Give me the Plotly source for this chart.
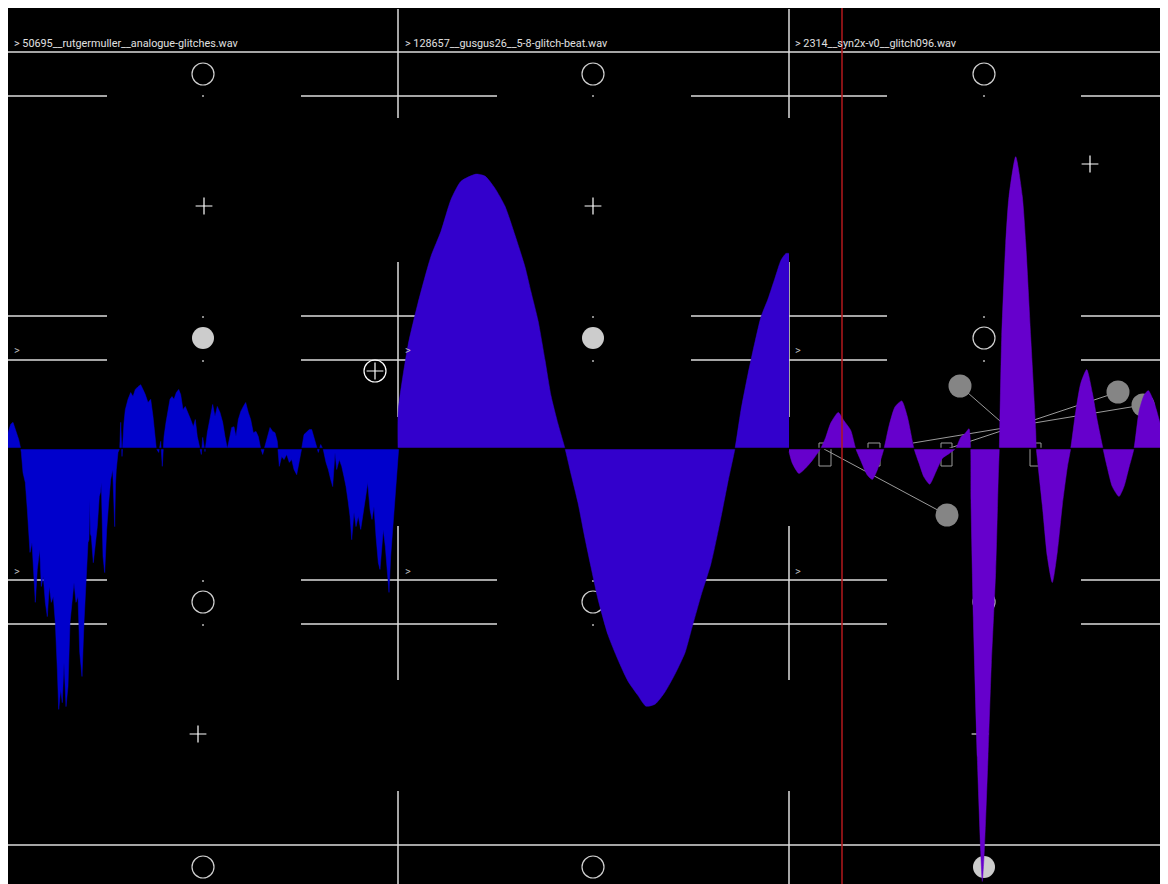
import plotly.graph_objects as go

# ---------------- data ----------------
TRACK_NAMES = [
    "50695__rutgermuller__analogue-glitches.wav",
    "128657__gusgus26__5-8-glitch-beat.wav",
    "2314__syn2x-v0__glitch096.wav",
]
TRACK_COLORS = ["#0000cc", "#3300cc", "#6600cc"]
TRACK_START_BIN = [0, 390, 781]          # first overview bin of each track
TRACK_SHAPE = ["linear", "spline", "spline"]

# waveform overview: (bin within track, peak amplitude, full scale = 1)
TRACK1_PEAKS = [
    (0, 0.040), (2.7, 0.061), (5, 0.066), (8.3, 0.043), (10.7, 0.023), (12.7, 0.0),
    (13.3, -0.010), (15, -0.061), (17.3, -0.086), (19.3, -0.154), (20.7, -0.222),
    (22, -0.262), (24, -0.237), (26, -0.338), (27.3, -0.388), (29.3, -0.305),
    (31.7, -0.255), (33.3, -0.348), (35.3, -0.323), (37.3, -0.388), (39.3, -0.424),
    (41.3, -0.348), (43.3, -0.388), (45.3, -0.373), (47.3, -0.439), (49.3, -0.557),
    (50.7, -0.658), (52.7, -0.608), (54.3, -0.641), (56, -0.540), (58, -0.651),
    (60, -0.600), (62, -0.439), (64, -0.388), (66, -0.338), (68, -0.388),
    (70, -0.373), (71.7, -0.514), (74, -0.575), (76, -0.439), (78, -0.323),
    (80, -0.237), (81, -0.230), (81.7, -0.129), (82.4, -0.215), (83.3, -0.222),
    (85.3, -0.288), (87.3, -0.237), (89.3, -0.197), (91.3, -0.121), (92.5, -0.110),
    (93.3, -0.086), (94.2, -0.200), (95, -0.272), (96.7, -0.313), (98.7, -0.204),
    (100.7, -0.136), (102.7, -0.078), (104.7, -0.053), (105.8, -0.150), (106.7, -0.197),
    (107.5, -0.090), (108.3, -0.053), (110, -0.010), (111.7, 0.0), (112.7, 0.066),
    (114, -0.020), (116, 0.066), (117.3, 0.098), (120, 0.124), (122.7, 0.141),
    (125, 0.131), (127.3, 0.149), (130, 0.156), (132.7, 0.161), (135, 0.149),
    (137.3, 0.136), (140, 0.116), (142.7, 0.124), (145, 0.081), (146.7, 0.030),
    (148.3, 0.0), (150.7, -0.010), (152.7, 0.018), (154.3, -0.045), (156, 0.030),
    (158, 0.066), (160, 0.098), (162, 0.124), (164, 0.131), (166, 0.124),
    (168.3, 0.141), (170.7, 0.149), (172.7, 0.136), (175, 0.098), (177.3, 0.106),
    (180, 0.091), (182.7, 0.073), (185.3, 0.055), (187.3, 0.073), (189.3, 0.030),
    (191.7, 0.0), (193.3, -0.015), (194.7, 0.028), (197, -0.008), (199.3, 0.040),
    (202, 0.081), (204.7, 0.111), (207, 0.081), (209.3, 0.106), (212, 0.091),
    (214.7, 0.066), (217, 0.030), (219.3, 0.0), (221.3, 0.023), (223.7, 0.053),
    (226, 0.055), (228, 0.030), (230.3, 0.073), (232.7, 0.093), (235.3, 0.106),
    (237.7, 0.116), (240.3, 0.091), (242.7, 0.073), (245.3, 0.040), (248, 0.043),
    (250.3, 0.030), (252.7, 0.0), (254.7, -0.015), (257, 0.005), (259.3, 0.023),
    (262, 0.053), (264.7, 0.043), (267, 0.040), (269.3, 0.018), (271.3, -0.045),
    (273.7, -0.020), (276, -0.028), (278.7, -0.015), (281.3, -0.035), (283.7, -0.028),
    (286, -0.053), (288.7, -0.066), (291.3, -0.035), (293.7, 0.0), (296, 0.035),
    (298.7, 0.043), (301.3, 0.048), (303.7, 0.048), (306, 0.028), (308.7, 0.0),
    (310.3, -0.010), (312.7, 0.010), (315.3, -0.003), (318, -0.035), (320.3, -0.053),
    (322.7, -0.078), (324.7, -0.096), (327, -0.010), (328.7, -0.053), (331.3, -0.028),
    (333.7, -0.045), (336, -0.071), (338, -0.096), (340.3, -0.136), (342, -0.171),
    (343.7, -0.230), (346, -0.161), (348, -0.197), (350.3, -0.171), (352.7, -0.204),
    (355.3, -0.154), (357.7, -0.121), (359.7, -0.086), (362, -0.154), (364, -0.179),
    (366, -0.146), (368, -0.222), (370.3, -0.288), (372, -0.305), (373.7, -0.255),
    (375.3, -0.204), (377.3, -0.247), (379.3, -0.323), (381, -0.363), (382.7, -0.272),
    (384.7, -0.204), (387, -0.121), (389.3, -0.053), (390.7, 0.0),
]
TRACK2_PEAKS = [
    (0, 0.0), (0.3, 0.097), (10, 0.260), (20, 0.367), (33, 0.485), (43, 0.548),
    (53, 0.628), (63, 0.674), (78, 0.692), (87, 0.687), (97, 0.656), (107, 0.611),
    (117, 0.538), (127, 0.458), (133, 0.395), (140, 0.323), (147, 0.223),
    (153, 0.133), (160, 0.062), (167, 0.0), (173, -0.064), (180, -0.137),
    (187, -0.227), (193, -0.299), (200, -0.380), (210, -0.470), (220, -0.533),
    (230, -0.587), (240, -0.623), (248, -0.650), (257, -0.645), (267, -0.614),
    (277, -0.569), (287, -0.515), (293, -0.461), (303, -0.371), (313, -0.290),
    (323, -0.173), (330, -0.083), (337, 0.0), (343, 0.097), (350, 0.188),
    (357, 0.269), (363, 0.332), (370, 0.377), (377, 0.430), (383, 0.475),
    (388, 0.492), (391, 0.492),
]
TRACK3_PEAKS = [
    (0, -0.008), (3.3, -0.037), (10, -0.063), (16.7, -0.049), (23.3, -0.030), (31.7, 0.0),
    (36.7, 0.028), (41.7, 0.064), (49.3, 0.091), (55, 0.070), (61.7, 0.046), (66.7, 0.0),
    (71.7, -0.030), (78.3, -0.067), (83.3, -0.078), (88.3, -0.054), (95, 0.0),
    (100, 0.057), (106, 0.105), (112.7, 0.120), (118.3, 0.081), (125, 0.0),
    (130, -0.037), (135, -0.072), (140.7, -0.090), (146.7, -0.060), (153.3, -0.025),
    (160, -0.013), (166.7, 0.0), (171.7, 0.028), (176.7, 0.040), (180, 0.050),
    (181.7, 0.0), (182, -0.131), (184.3, -0.426), (188.3, -0.779), (191.7, -1.016),
    (193.3, -1.092), (195.3, -1.016), (199, -0.779), (202.3, -0.545), (206.7, -0.308),
    (209.3, -0.072), (210.3, 0.0), (210.7, 0.046), (212.7, 0.282), (216.7, 0.518),
    (220, 0.636), (226.7, 0.736), (233.3, 0.636), (236.7, 0.518), (241.7, 0.282),
    (246.7, 0.046), (247.3, 0.0), (248.3, -0.025), (253.3, -0.143), (258.3, -0.272),
    (263.3, -0.338), (268.3, -0.261), (273.3, -0.143), (278.3, -0.048), (281.7, 0.0),
    (286.7, 0.093), (291.7, 0.164), (297.7, 0.199), (303.3, 0.141), (308.3, 0.070),
    (314, 0.0), (318.3, -0.048), (323.3, -0.096), (330, -0.121), (335, -0.096),
    (340, -0.048), (345, 0.0), (350, 0.093), (355, 0.134), (359.3, 0.146),
    (365, 0.117), (371.7, 0.058), (376.7, 0.010), (379, -0.013),
]
TRACK_PEAKS = [TRACK1_PEAKS, TRACK2_PEAKS, TRACK3_PEAKS]
PLAYHEAD_BIN = 834

# ---------------- UI layer (page pixel positions) ----------------
PAGE_X = [8, 1168]
PAGE_Y = [884, 8]
FULL_ROWS_Y = [52, 845]
SEG_ROWS_Y = [96, 316, 360, 580, 624]
SEG_SPANS_X = [(8, 107), (301, 497), (691, 887), (1081, 1168)]
COL_EDGES_X = [398, 789]
COL_EDGE_SPANS_Y = [(9, 118), (262, 417), (526, 680), (791, 884)]
COL_CENTERS_X = [203, 593, 984]
TICK_ROWS_Y = [96, 317, 361, 581, 625]
OPEN_KNOBS = [(203, 74), (593, 74), (984, 74), (984, 338), (203, 602),
              (593, 602), (984, 602), (203, 867), (593, 867)]
FILLED_KNOBS = [(203, 338), (593, 338), (984, 867)]
PLUS_MARKS = [(204, 206), (593, 206), (1090, 164), (198, 734), (980, 734)]
PLUS_CIRCLE = (375, 371)
NODES = [(960, 386), (947, 515), (1118, 392), (1143, 405)]
NODE_TARGETS = [(1000, 421), (824, 449), (947, 449), (913, 443)]
SLOT_X = [(819, 831), (868, 880), (941, 952), (1030, 1041)]
SLOT_Y = (443, 466)
LABEL_X = [12, 403, 793]
LABEL_Y = 43
ARROW_ROWS_Y = [350, 571]

GRID = "#dcdcdc"
fig = go.Figure()


def segs(pairs):
    xs, ys = [], []
    for (x0, y0), (x1, y1) in pairs:
        xs += [x0, x1, None]
        ys += [y0, y1, None]
    return xs, ys


# grid lines
pairs = [((PAGE_X[0], y), (PAGE_X[1], y)) for y in FULL_ROWS_Y]
pairs += [((a, y), (b, y)) for y in SEG_ROWS_Y for a, b in SEG_SPANS_X]
pairs += [((x, a), (x, b)) for x in COL_EDGES_X for a, b in COL_EDGE_SPANS_Y]
xs, ys = segs(pairs)
fig.add_trace(go.Scatter(x=xs, y=ys, mode="lines", line=dict(color=GRID, width=1.5),
                         hoverinfo="skip", showlegend=False))
# tiny ticks at column centres
fig.add_trace(go.Scatter(x=[c for c in COL_CENTERS_X for _ in TICK_ROWS_Y],
                         y=[r for _ in COL_CENTERS_X for r in TICK_ROWS_Y],
                         mode="markers", marker=dict(symbol="square", size=2, color="#888"),
                         hoverinfo="skip", showlegend=False))
# knobs
fig.add_trace(go.Scatter(x=[p[0] for p in OPEN_KNOBS], y=[p[1] for p in OPEN_KNOBS],
                         mode="markers",
                         marker=dict(symbol="circle-open", size=22, color="#d0d0d0",
                                     line=dict(width=1.2, color="#d0d0d0")),
                         hoverinfo="skip", showlegend=False))
fig.add_trace(go.Scatter(x=[p[0] for p in FILLED_KNOBS], y=[p[1] for p in FILLED_KNOBS],
                         mode="markers", marker=dict(symbol="circle", size=22, color="#cccccc"),
                         hoverinfo="skip", showlegend=False))
fig.add_trace(go.Scatter(x=[p[0] for p in PLUS_MARKS], y=[p[1] for p in PLUS_MARKS],
                         mode="markers",
                         marker=dict(symbol="cross-thin", size=12, line=dict(width=1.2, color="white")),
                         hoverinfo="skip", showlegend=False))
fig.add_trace(go.Scatter(x=[PLUS_CIRCLE[0]], y=[PLUS_CIRCLE[1]], mode="markers",
                         marker=dict(symbol="circle-open", size=22, color="white",
                                     line=dict(width=1.2, color="white")),
                         hoverinfo="skip", showlegend=False))
fig.add_trace(go.Scatter(x=[PLUS_CIRCLE[0]], y=[PLUS_CIRCLE[1]], mode="markers",
                         marker=dict(symbol="cross-thin", size=12, line=dict(width=1.2, color="white")),
                         hoverinfo="skip", showlegend=False))
# connector lines and nodes
xs, ys = segs(list(zip(NODES, NODE_TARGETS)))
fig.add_trace(go.Scatter(x=xs, y=ys, mode="lines", line=dict(color="#9a9a9a", width=1),
                         hoverinfo="skip", showlegend=False))
rx, ry = [], []
for a, b in SLOT_X:
    rx += [a, b, b, a, a, None]
    ry += [SLOT_Y[0], SLOT_Y[0], SLOT_Y[1], SLOT_Y[1], SLOT_Y[0], None]
fig.add_trace(go.Scatter(x=rx, y=ry, mode="lines", line=dict(color="#9a9a9a", width=1),
                         hoverinfo="skip", showlegend=False))
fig.add_trace(go.Scatter(x=[p[0] for p in NODES], y=[p[1] for p in NODES], mode="markers",
                         marker=dict(symbol="circle", size=23, color="#858585"),
                         hoverinfo="skip", showlegend=False))

# waveforms (overlay axes: bins x amplitude)
for k, peaks in enumerate(TRACK_PEAKS):
    fig.add_trace(go.Scatter(
        x=[TRACK_START_BIN[k] + b for b, _ in peaks], y=[a for _, a in peaks],
        mode="lines", fill="tozeroy", fillcolor=TRACK_COLORS[k],
        line=dict(color=TRACK_COLORS[k], width=0.5, shape=TRACK_SHAPE[k], smoothing=0.6),
        xaxis="x2", yaxis="y2", hoverinfo="skip", showlegend=False))

# labels
annotations = []
for k, name in enumerate(TRACK_NAMES):
    annotations.append(dict(x=LABEL_X[k], y=LABEL_Y, xref="x", yref="y", text="> " + name,
                            showarrow=False, xanchor="left", yanchor="middle",
                            font=dict(size=10.8, color="#e0e0e0")))
    for ry_ in ARROW_ROWS_Y:
        annotations.append(dict(x=LABEL_X[k], y=ry_, xref="x", yref="y", text=">",
                                showarrow=False, xanchor="left", yanchor="middle",
                                font=dict(size=11, color="#bbbbbb")))

shapes = [
    dict(type="line", xref="paper", x0=0, x1=1, yref="y2", y0=0, y1=0,
         line=dict(color="black", width=1.5), layer="above"),
    dict(type="line", xref="x2", x0=PLAYHEAD_BIN, x1=PLAYHEAD_BIN, yref="paper", y0=0, y1=1,
         line=dict(color="#b3191c", width=1.5), layer="above"),
]

fig.update_layout(
    width=1160, height=876, margin=dict(l=0, r=0, t=0, b=0, pad=0),
    paper_bgcolor="black", plot_bgcolor="black",
    font=dict(family="Liberation Sans Narrow, Roboto, sans-serif"),
    xaxis=dict(range=PAGE_X, visible=False, fixedrange=True),
    yaxis=dict(range=PAGE_Y, visible=False, fixedrange=True),
    xaxis2=dict(range=[0, 1160], overlaying="x", anchor="y2", visible=False, fixedrange=True),
    yaxis2=dict(range=[-1.09836, 1.11097], overlaying="y", anchor="x2", visible=False,
                fixedrange=True),
    annotations=annotations, shapes=shapes, showlegend=False,
)

fig.write_html("out.html", config={"displayModeBar": False},
               post_script="document.body.style.overflow='hidden';")
